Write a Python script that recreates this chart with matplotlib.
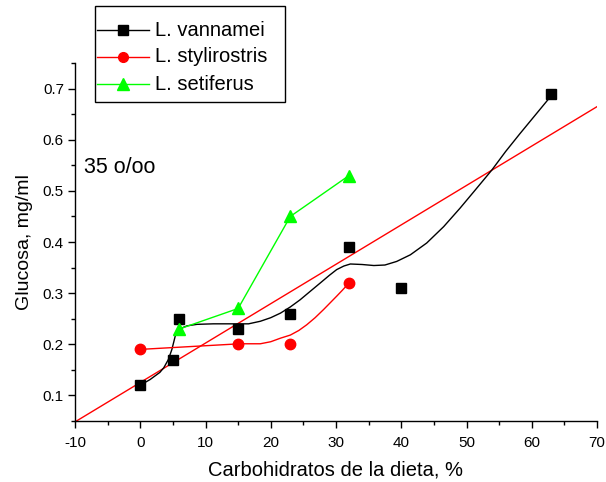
import numpy as np
import matplotlib
matplotlib.use("Agg")
import matplotlib.pyplot as plt
from matplotlib.lines import Line2D
from matplotlib.patches import Rectangle
from matplotlib.ticker import MultipleLocator

plt.rcParams['font.family'] = ['Liberation Sans', 'DejaVu Sans']
plt.rcParams['axes.unicode_minus'] = False

W, H = 606, 482

# L. vannamei
van_x = [0, 5, 6, 15, 23, 32, 40, 63]
van_y = [0.12, 0.17, 0.25, 0.23, 0.26, 0.39, 0.31, 0.69]
# smoothed curve through vannamei
van_cx = [0, 1.5, 3.0, 3.6, 4.3, 4.85, 5.36, 5.8, 6.1, 6.6, 7.15, 8.7, 11.2, 13.8, 16.6,
          18.4, 20.0, 21.5, 23.0, 24.5, 26.0, 27.6, 29.0, 30.1, 31.2, 32.2, 34.0, 35.8,
          37.5, 39.3, 41.4, 43.9, 46.5, 49.0, 51.1, 52.6, 53.9, 56.0, 58.2, 60.4,
          62.6, 63]
van_cy = [0.12, 0.131, 0.145, 0.154, 0.17, 0.19, 0.216, 0.224, 0.229, 0.233, 0.236,
          0.239, 0.24, 0.24, 0.24, 0.245, 0.252, 0.261, 0.273, 0.287, 0.303, 0.32,
          0.335, 0.346, 0.353, 0.357, 0.356, 0.354, 0.355, 0.362, 0.375, 0.398, 0.43,
          0.466, 0.498, 0.521, 0.541, 0.577, 0.612, 0.646, 0.68, 0.69]

# L. stylirostris
sty_x = [0, 15, 23, 32]
sty_y = [0.19, 0.20, 0.20, 0.32]
sty_cx = [0, 15.3, 18.4, 20.0, 21.5, 23, 24.3, 25.5, 26.8, 28.1, 29.1, 30.1, 31.0, 32]
sty_cy = [0.19, 0.201, 0.201, 0.205, 0.212, 0.218, 0.227, 0.238, 0.252, 0.268, 0.281,
          0.294, 0.306, 0.32]

# L. setiferus
set_x = [6, 15, 23, 32]
set_y = [0.23, 0.27, 0.45, 0.53]

names = ['L. vannamei', 'L. stylirostris', 'L. setiferus']
colors = ['black', 'red', '#00ff00']
markers = ['s', 'o', '^']
msizes = [7.2, 7.5, 8.5]

fig = plt.figure(figsize=(W / 100, H / 100), dpi=100)
ax = fig.add_axes([75 / W, 61 / H, 522 / W, 358 / H])

# linear regression on vannamei, drawn across the whole x range
slope, icpt = np.polyfit(van_x, van_y, 1)
fx = np.array([-10, 70])
ax.plot(fx, slope * fx + icpt, color='red', lw=1)

ax.plot(van_cx, van_cy, color=colors[0], lw=1)
ax.plot(sty_cx, sty_cy, color=colors[1], lw=1)
ax.plot(set_x, set_y, color=colors[2], lw=1)

for xs, ys, c, m, s in zip([van_x, sty_x, set_x], [van_y, sty_y, set_y],
                           colors, markers, msizes):
    ax.plot(xs, ys, m, color=c, ms=s, ls='none')

ax.set_xlim(-10, 70)
ax.set_ylim(0.05, 0.75)
ax.xaxis.set_major_locator(MultipleLocator(10))
ax.xaxis.set_minor_locator(MultipleLocator(5))
ax.yaxis.set_minor_locator(MultipleLocator(0.05))
yt = np.arange(0.1, 0.71, 0.1)
ax.set_yticks(yt)
ax.set_yticklabels(['%.1f' % v for v in yt])
ax.tick_params(which='major', direction='out', length=5, width=1, labelsize=11, pad=3)
ax.tick_params(axis='x', which='major', pad=6)
ax.tick_params(which='minor', direction='out', length=3, width=1)
for s in ['top', 'right']:
    ax.spines[s].set_visible(False)
for s in ['left', 'bottom']:
    ax.spines[s].set_linewidth(1)

ax.set_xlabel('Carbohidratos de la dieta, %', fontsize=14.5, labelpad=7)
ax.set_ylabel('Glucosa, mg/ml', fontsize=14, labelpad=7)
ax.text(0.018, 0.707, '35 o/oo', transform=ax.transAxes, fontsize=15.5, va='center')


# legend box drawn in pixel positions
def fp(x, y):
    return x / W, 1 - y / H


x0, y0 = fp(95, 102)
x1, y1 = fp(285, 6)
fig.add_artist(Rectangle((x0, y0), x1 - x0, y1 - y0, transform=fig.transFigure,
                         fill=False, edgecolor='black', lw=1))
for i, (n, c, m, s) in enumerate(zip(names, colors, markers, msizes)):
    ry = 30 + 27 * i
    la, lb = fp(97, ry), fp(149, ry)
    fig.add_artist(Line2D([la[0], lb[0]], [la[1], lb[1]], transform=fig.transFigure,
                          color=c, lw=1))
    mk = fp(123, ry)
    fig.add_artist(Line2D([mk[0]], [mk[1]], transform=fig.transFigure, marker=m,
                          color=c, ms=s - 0.5, ls='none'))
    tp = fp(155, ry)
    fig.text(tp[0], tp[1], n, fontsize=14.5, va='center', ha='left')

fig.savefig('out.png', dpi=100)
